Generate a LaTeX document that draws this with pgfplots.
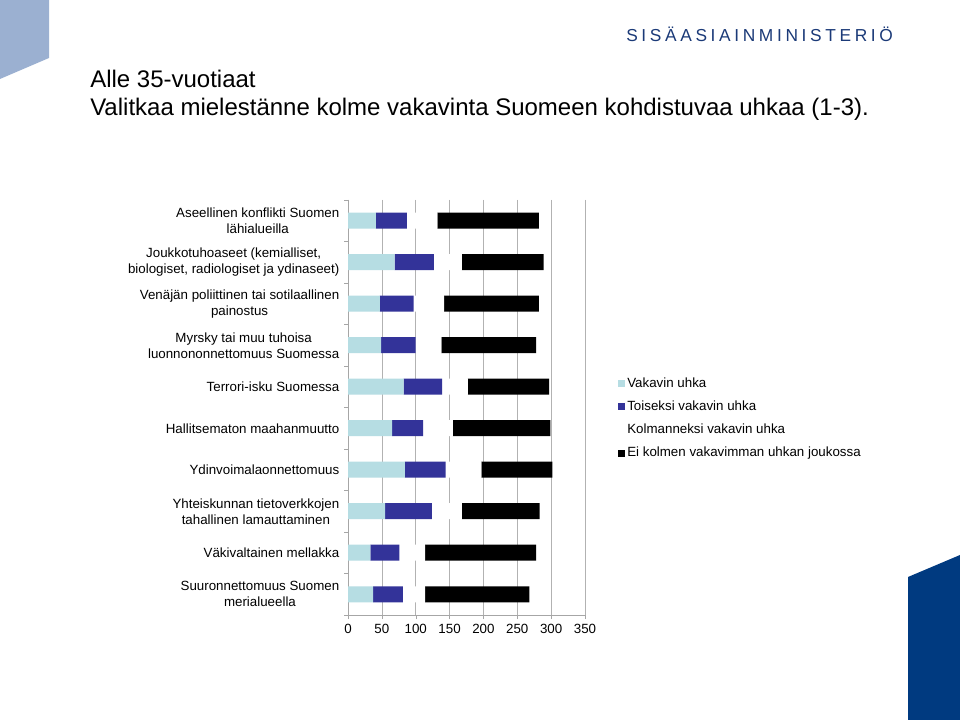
\documentclass[border=0pt]{standalone}
\usepackage{fontspec}
\setmainfont{Liberation Sans}
\newfontfamily\logofont[LetterSpace=21]{Liberation Sans}
\usepackage{pgfplots}
\pgfplotsset{compat=1.18}

\definecolor{vakavin}{HTML}{B6DDE3}
\definecolor{toiseksi}{HTML}{333399}
\definecolor{logoblue}{HTML}{1B3A78}
\definecolor{cornerlight}{HTML}{9BB0D1}
\definecolor{cornerdark}{HTML}{003A80}

\begin{document}
\begin{tikzpicture}
% page and decorations, in pixel units (y downwards)
\begin{scope}[x=0.75pt,y=-0.75pt,shift={(0,540pt)}]
  \fill[white] (0,0) rectangle (960,720);
  \useasboundingbox (0,0) rectangle (960,720);
  \fill[cornerlight] (0,0) -- (49,0) -- (49,58) -- (0,79) -- cycle;
  \fill[cornerdark] (908,577) -- (960,555) -- (960,720) -- (908,720) -- cycle;
  \node[anchor=base west,inner sep=0,font=\fontsize{18pt}{20pt}\selectfont] at (90,88) {Alle 35-vuotiaat};
  \node[anchor=base west,inner sep=0,font=\fontsize{18pt}{20pt}\selectfont] at (90,116) {Valitkaa mielestänne kolme vakavinta Suomeen kohdistuvaa uhkaa (1-3).};
  \node[anchor=base west,inner sep=0,text=logoblue,font=\logofont\fontsize{13pt}{15pt}\selectfont] at (626,42) {SISÄASIAINMINISTERIÖ};
\end{scope}

\begin{axis}[
    at={(261pt,78.75pt)}, anchor=south west,
    scale only axis, width=177.75pt, height=311.25pt,
    xbar stacked, bar width=12pt,
    xmin=0, xmax=350, xtick={0,50,...,350},
    ymin=0.5, ymax=10.5, y dir=reverse,
    ytick={1,...,10},
    minor ytick={0.5,1.5,...,10.5},
    major y tick style={draw=none},
    yticklabels={
      {Aseellinen konflikti Suomen\\lähialueilla},
      {Joukkotuhoaseet (kemialliset,\\biologiset, radiologiset ja ydinaseet)},
      {Venäjän poliittinen tai sotilaallinen\\painostus},
      {Myrsky tai muu tuhoisa\\luonnononnettomuus Suomessa},
      {Terrori-isku Suomessa},
      {Hallitsematon maahanmuutto},
      {Ydinvoimalaonnettomuus},
      {Yhteiskunnan tietoverkkojen\\tahallinen lamauttaminen},
      {Väkivaltainen mellakka},
      {Suuronnettomuus Suomen\\merialueella}},
    yticklabel style={align=center,font=\fontsize{10pt}{12pt}\selectfont},
    xticklabel style={font=\fontsize{10pt}{12pt}\selectfont},
    /pgf/number format/assume math mode=true,
    axis x line*=bottom, axis y line*=left,
    axis line style={gray!70},
    tick align=outside, tick style={gray!70},
    major tick length=3pt, minor tick length=3pt,
    xmajorgrids, grid style={gray!60},
    legend cell align=left,
    legend style={at={(1.12,0.585)}, anchor=north west, draw=none, fill=none,
      font=\fontsize{10pt}{12pt}\selectfont, row sep=4.6pt},
    legend image code/.code={\fill[#1] (0pt,-2.6pt) rectangle (5.2pt,2.6pt);},
]
\addplot[fill=vakavin,draw=none] coordinates {
  (41,1) (69,2) (47,3) (49,4) (82,5) (65,6) (84,7) (55,8) (33,9) (37,10)};
\addplot[fill=toiseksi,draw=none] coordinates {
  (46,1) (58,2) (50,3) (51,4) (57,5) (46,6) (60,7) (69,8) (43,9) (44,10)};
\addplot[fill=white,draw=none] coordinates {
  (45,1) (41,2) (45,3) (38,4) (38,5) (44,6) (53,7) (44,8) (38,9) (33,10)};
\addplot[fill=black,draw=none] coordinates {
  (150,1) (121,2) (140,3) (140,4) (120,5) (144,6) (105,7) (115,8) (164,9) (154,10)};
\legend{Vakavin uhka, Toiseksi vakavin uhka, Kolmanneksi vakavin uhka, Ei kolmen vakavimman uhkan joukossa}
\end{axis}
\end{tikzpicture}
\end{document}
